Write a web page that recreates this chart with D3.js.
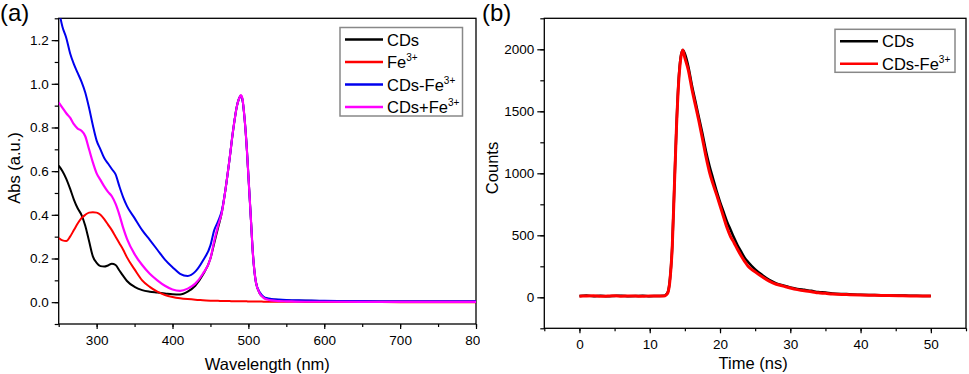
<!DOCTYPE html>
<html>
<head>
<meta charset="utf-8">
<script src="https://cdn.jsdelivr.net/npm/d3@7"></script>
<style>
  body { margin: 0; background: #fff; }
  svg { display: block; font-family: "Liberation Sans", Arial, sans-serif; }
</style>
</head>
<body>
<svg id="chart" width="969" height="374"></svg>
<script>
// ---- panel (a): UV-vis absorption ----
var wavelength = [250,255,260,265,270,275,280,285,290,295,300,305,310,315,320,325,330,335,340,350,360,370,380,390,400,410,420,430,440,450,455,460,465,470,475,480,485,488,490,492,495,498,500,503,506,510,515,520,525,530,540,550,575,600,650,700,750,800];
var absCDs = [0.625,0.60,0.565,0.52,0.47,0.43,0.40,0.35,0.28,0.21,0.18,0.165,0.163,0.168,0.176,0.17,0.145,0.12,0.097,0.07,0.055,0.048,0.044,0.04,0.036,0.035,0.048,0.075,0.125,0.20,0.27,0.34,0.41,0.52,0.65,0.79,0.90,0.935,0.945,0.93,0.84,0.70,0.58,0.40,0.22,0.09,0.04,0.022,0.015,0.012,0.01,0.008,0.006,0.005,0.004,0.003,0.003,0.003];
var absFe = [0.294,0.283,0.28,0.30,0.33,0.36,0.385,0.40,0.41,0.412,0.41,0.40,0.38,0.355,0.33,0.30,0.27,0.24,0.205,0.15,0.10,0.07,0.048,0.033,0.024,0.018,0.014,0.011,0.009,0.007,0.006,0.006,0.005,0.005,0.005,0.004,0.004,0.004,0.004,0.004,0.004,0.004,0.003,0.003,0.003,0.003,0.003,0.002,0.002,0.002,0.002,0.002,0.001,0.001,0.001,0.0,0.0,0.0];
var absCDsFe = [1.34,1.26,1.21,1.14,1.09,1.05,1.01,0.96,0.89,0.81,0.74,0.70,0.66,0.635,0.61,0.585,0.53,0.48,0.44,0.385,0.33,0.285,0.24,0.195,0.16,0.13,0.12,0.14,0.19,0.26,0.33,0.37,0.42,0.52,0.65,0.79,0.90,0.935,0.945,0.93,0.84,0.70,0.58,0.40,0.22,0.09,0.045,0.025,0.018,0.015,0.012,0.01,0.008,0.006,0.005,0.004,0.004,0.004];
var absMix = [0.915,0.89,0.865,0.845,0.815,0.795,0.785,0.76,0.70,0.64,0.59,0.56,0.53,0.505,0.485,0.45,0.40,0.34,0.29,0.22,0.17,0.13,0.10,0.075,0.058,0.052,0.062,0.085,0.13,0.20,0.28,0.35,0.41,0.52,0.65,0.79,0.90,0.935,0.948,0.935,0.84,0.70,0.58,0.40,0.22,0.09,0.04,0.02,0.012,0.008,0.005,0.004,0.002,0.002,0.001,0.001,0.001,0.001];
var wlTicks = [300,400,500,600,700,800];
var absTicks = [0.0,0.2,0.4,0.6,0.8,1.0,1.2];

// ---- panel (b): fluorescence decay ----
var timeNs = [0,1,2,3,4,5,6,7,8,9,10,11,12,12.3,12.6,12.9,13.2,13.5,13.8,14.1,14.4,14.7,15.0,15.5,16,16.5,17,17.5,18,18.5,19,19.5,20,20.5,21,21.5,22,22.5,23,23.5,24,25,26,27,28,29,30,31,32,33,34,35,36,38,40,42,44,46,48,50];
var countsCDs = [10,14,9,12,8,11,13,9,10,12,9,11,12,20,45,160,410,890,1370,1740,1935,1995,1965,1860,1710,1580,1450,1320,1180,1060,960,860,770,690,610,545,480,420,370,320,285,225,180,140,112,95,80,68,60,52,42,38,30,26,20,18,15,14,12,11];
var countsCDsFe = [9,11,12,8,10,12,9,11,10,8,11,10,11,18,40,150,400,880,1360,1720,1920,1995,1930,1830,1680,1550,1420,1280,1135,1010,915,830,740,650,560,490,440,385,335,290,250,205,165,130,105,90,75,62,52,45,36,32,26,22,18,16,14,12,11,10];
var timeTicks = [0,10,20,30,40,50];
var countTicks = [0,500,1000,1500,2000];

var svg = d3.select('#chart');

// clip for panel (a), the original image was cut at x=480
svg.append('defs').append('clipPath').attr('id', 'clipA')
  .append('rect').attr('x', 0).attr('y', 0).attr('width', 480).attr('height', 374);

function drawPanel(opt) {
  var g = opt.parent;
  var x = d3.scaleLinear().domain(opt.xDomain).range([opt.left, opt.right]);
  var y = d3.scaleLinear().domain(opt.yDomain).range([opt.bottom, opt.top]);

  var clipId = 'plot' + opt.tag;
  g.append('clipPath').attr('id', clipId)
    .append('rect')
      .attr('x', opt.left).attr('y', opt.top)
      .attr('width', opt.right - opt.left).attr('height', opt.bottom - opt.top);

  // minor ticks
  var xAxisMinor = d3.axisBottom(x).tickValues(opt.xMinor).tickSize(3).tickFormat('');
  var yAxisMinor = d3.axisLeft(y).tickValues(opt.yMinor).tickSize(4).tickFormat('');
  g.append('g').attr('transform', 'translate(0,' + opt.bottom + ')').call(xAxisMinor);
  g.append('g').attr('transform', 'translate(' + opt.left + ',0)').call(yAxisMinor);

  // major ticks
  var xAxis = d3.axisBottom(x).tickValues(opt.xTicks).tickSize(5).tickPadding(6).tickFormat(opt.xFormat);
  var yAxis = d3.axisLeft(y).tickValues(opt.yTicks).tickSize(7).tickPadding(3).tickFormat(opt.yFormat);
  g.append('g').attr('transform', 'translate(0,' + opt.bottom + ')').call(xAxis);
  g.append('g').attr('transform', 'translate(' + opt.left + ',0)').call(yAxis);

  g.selectAll('.domain').remove();
  g.selectAll('.tick line').attr('stroke', '#000').attr('stroke-width', 1.2);
  g.selectAll('.tick text').attr('font-size', 13.5).attr('fill', '#000')
    .attr('font-family', '"Liberation Sans", Arial, sans-serif');

  // frame
  g.append('rect')
    .attr('x', opt.left).attr('y', opt.top)
    .attr('width', opt.right - opt.left).attr('height', opt.bottom - opt.top)
    .attr('fill', 'none').attr('stroke', '#000').attr('stroke-width', 1.3);

  // series
  var plot = g.append('g').attr('clip-path', 'url(#' + clipId + ')');
  opt.series.forEach(function (s) {
    var line = d3.line()
      .x(function (d, i) { return x(opt.xs[i]); })
      .y(function (d) { return y(d); })
      .curve(d3.curveMonotoneX);
    plot.append('path')
      .datum(s.values)
      .attr('fill', 'none')
      .attr('stroke', s.color)
      .attr('stroke-width', s.width)
      .attr('stroke-linejoin', 'round')
      .attr('d', line);
  });

  // axis titles
  g.append('text')
    .attr('x', (opt.left + opt.right) / 2 + opt.xTitleShift).attr('y', opt.xTitleY)
    .attr('text-anchor', 'middle').attr('font-size', 16.5)
    .text(opt.xTitle);
  g.append('text')
    .attr('transform', 'translate(' + opt.yTitleX + ',' + 168 + ') rotate(-90)')
    .attr('text-anchor', 'middle').attr('dominant-baseline', 'central').attr('font-size', 16.5)
    .text(opt.yTitle);

  // panel letter
  g.append('text')
    .attr('x', opt.letterX).attr('y', 21)
    .attr('font-size', 24)
    .text(opt.letter);

  // legend
  var lg = g.append('g');
  lg.append('rect')
    .attr('x', opt.legend.x).attr('y', opt.legend.y)
    .attr('width', opt.legend.w).attr('height', opt.legend.h)
    .attr('fill', '#fff').attr('stroke', '#888').attr('stroke-width', 1.5);
  opt.series.forEach(function (s, i) {
    var yy = opt.legend.y + 12 + i * 22.5;
    lg.append('line')
      .attr('x1', opt.legend.x + 5).attr('x2', opt.legend.x + 43)
      .attr('y1', yy).attr('y2', yy)
      .attr('stroke', s.color).attr('stroke-width', 2.5);
    var t = lg.append('text')
      .attr('x', opt.legend.x + 47).attr('y', yy + 6)
      .attr('font-size', 16.5);
    t.append('tspan').text(s.name);
    if (s.sup) {
      t.append('tspan').attr('dy', -7).attr('font-size', 10).text(s.sup);
    }
  });
}

var gA = svg.append('g').attr('clip-path', 'url(#clipA)');
drawPanel({
  parent: gA, tag: 'A',
  left: 58.7, right: 476, top: 18.3, bottom: 324,
  xDomain: [250, 800], yDomain: [-0.1, 1.3],
  xs: wavelength,
  xTicks: wlTicks, xMinor: d3.range(250, 801, 50),
  yTicks: absTicks, yMinor: d3.range(-0.1, 1.31, 0.1),
  xFormat: d3.format('d'), yFormat: d3.format('.1f'),
  xTitle: 'Wavelength (nm)', xTitleY: 370, xTitleShift: 0,
  yTitle: 'Abs (a.u.)', yTitleX: 14,
  letter: '(a)', letterX: 0,
  legend: { x: 340, y: 27.5, w: 122.5, h: 88.5 },
  series: [
    { name: 'CDs', color: '#000000', width: 2, values: absCDs },
    { name: 'Fe', sup: '3+', color: '#ff0000', width: 2, values: absFe },
    { name: 'CDs-Fe', sup: '3+', color: '#0000ee', width: 2, values: absCDsFe },
    { name: 'CDs+Fe', sup: '3+', color: '#ff00ff', width: 2.2, values: absMix }
  ]
});

var gB = svg.append('g');
drawPanel({
  parent: gB, tag: 'B',
  left: 544.3, right: 966, top: 18.3, bottom: 328.3,
  xDomain: [-5, 55], yDomain: [-250, 2250],
  xs: timeNs,
  xTicks: timeTicks, xMinor: d3.range(-5, 56, 5),
  yTicks: countTicks, yMinor: d3.range(-250, 2251, 250),
  xFormat: d3.format('d'), yFormat: d3.format('d'),
  xTitle: 'Time (ns)', xTitleY: 369, xTitleShift: -2,
  yTitle: 'Counts', yTitleX: 492,
  letter: '(b)', letterX: 482,
  legend: { x: 835, y: 29.3, w: 120, h: 43 },
  series: [
    { name: 'CDs', color: '#000000', width: 2.5, values: countsCDs },
    { name: 'CDs-Fe', sup: '3+', color: '#ff0000', width: 3, values: countsCDsFe }
  ]
});
</script>
</body>
</html>
